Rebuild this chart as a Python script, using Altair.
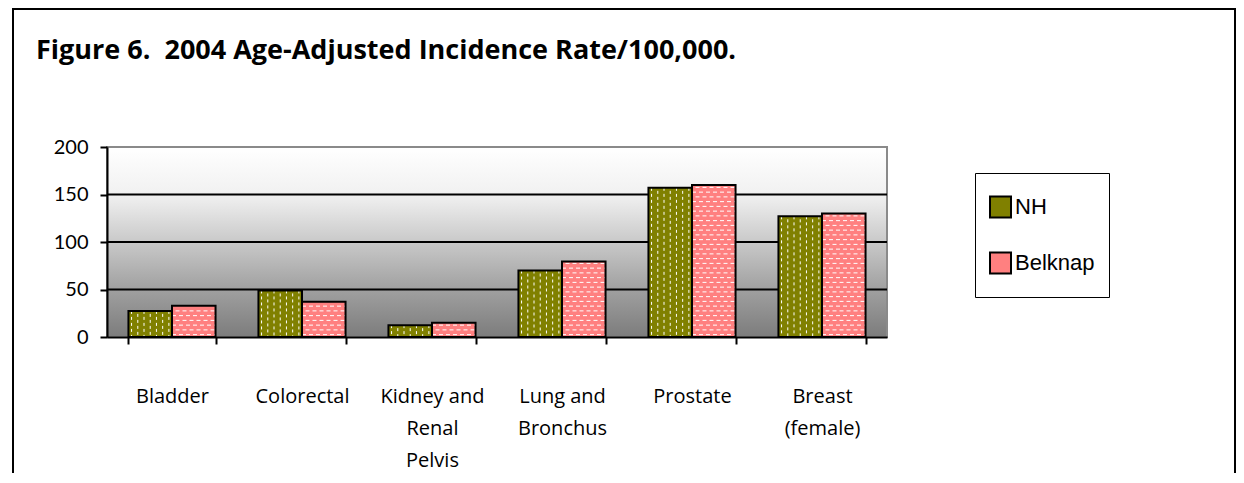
import altair as alt
import pandas as pd

# ---- data ----
categories = ["Bladder", "Colorectal", "Kidney and Renal Pelvis",
              "Lung and Bronchus", "Prostate", "Breast (female)"]
nh_values = [27.5, 49, 12.5, 70, 157, 127]
belknap_values = [33, 37, 15, 79.5, 160, 130]
series_names = ["NH", "Belknap"]
series_colors = ["#808000", "#FF8080"]
y_ticks = [0, 50, 100, 150, 200]
grid_values = [50, 100, 150]
label_lines = {
    "Kidney and Renal Pelvis": ["Kidney and", "Renal", "Pelvis"],
    "Lung and Bronchus": ["Lung and", "Bronchus"],
    "Breast (female)": ["Breast", "(female)"],
}
title_text = "Figure 6.\u00a0 2004 Age-Adjusted Incidence Rate/100,000."

df = pd.DataFrame({
    "category": categories * 2,
    "series": [series_names[0]] * len(categories) + [series_names[1]] * len(categories),
    "value": nh_values + belknap_values,
})
grid_df = pd.DataFrame({"g": grid_values})

W, H = 780, 190

label_expr = ""
for k, lines in label_lines.items():
    arr = "[" + ",".join("'" + s + "'" for s in lines) + "]"
    label_expr += f"datum.label == '{k}' ? {arr} : "
label_expr += "datum.label"

x_scale = alt.Scale(paddingInner=0.33, paddingOuter=0.165)
x_axis = alt.Axis(
    title=None, labelAngle=0, tickBand="extent", labelExpr=label_expr,
    domainColor="black", domainWidth=2, tickColor="black", tickWidth=2, tickSize=7,
    labelFont="Open Sans", labelFontSize=20, labelColor="black", labelLineHeight=32,
    labelPadding=52, labelBaseline="middle", zindex=1,
)
y_scale = alt.Scale(domain=[0, 200], nice=False)
y_axis = alt.Axis(
    title=None, values=y_ticks, grid=False,
    domainColor="black", domainWidth=2, tickColor="black", tickWidth=2, tickSize=7,
    labelFont="Lato", labelFontSize=20, labelColor="black", labelPadding=12, zindex=1,
)


def X(**kw):
    return alt.X("category:N", sort=categories, scale=x_scale, axis=x_axis, **kw)


def Y(field):
    return alt.Y(field, scale=y_scale, axis=y_axis)


gradient = alt.LinearGradient(
    gradient="linear", x1=0, y1=0, x2=0, y2=1,
    stops=[
        alt.GradientStop(color="#ffffff", offset=0),
        alt.GradientStop(color="#f1f1f1", offset=0.25),
        alt.GradientStop(color="#c9c9c9", offset=0.5),
        alt.GradientStop(color="#a0a0a0", offset=0.75),
        alt.GradientStop(color="#7c7c7c", offset=1),
    ],
)

one = alt.Data(values=[{"k": 1}])

background = alt.Chart(one).mark_rect(fill=gradient, stroke="#8a8a8a", strokeWidth=2).encode(
    x=alt.value(0), x2=alt.value("width"), y=alt.value(0), y2=alt.value("height")
)

outer_border = alt.Chart(one).mark_rect(fill=None, stroke="black", strokeWidth=2).encode(
    x=alt.value(-94), x2=alt.value(1128), y=alt.value(-138), y2=alt.value(400)
)

title = alt.Chart(one).mark_text(
    text=title_text, font="Open Sans", fontWeight="bold", fontSize=27, color="black",
    align="left", baseline="alphabetic",
).encode(x=alt.value(-71), y=alt.value(-88))

grid = alt.Chart(grid_df).mark_rule(color="black", strokeWidth=2).encode(y=Y("g:Q"))

base = alt.Chart(df)

bars = base.mark_bar(strokeWidth=0).encode(
    x=X(),
    xOffset=alt.XOffset("series:N", sort=series_names, scale=alt.Scale(domain=series_names)),
    y=Y("value:Q"),
    color=alt.Color(
        "series:N", sort=series_names,
        scale=alt.Scale(domain=series_names, range=series_colors),
        legend=alt.Legend(
            orient="none", legendX=868, legendY=26, title=None,
            symbolType="square", symbolSize=441, symbolStrokeColor="black",
            symbolStrokeWidth=2, symbolOpacity=1,
            labelFont="Liberation Sans", labelFontSize=22, labelColor="black",
            labelOffset=3, rowPadding=16, clipHeight=40, padding=14,
            strokeColor="black", fillColor="white",
        ),
    ),
)

# vertical dashed pattern on NH bars
nh_pattern = []
ncol = 7
for i in range(ncol):
    nh_pattern.append(
        base.transform_filter(alt.datum.series == series_names[0])
        .mark_rule(color="white", strokeWidth=1, strokeDash=[3, 3],
                   strokeDashOffset=0 if i % 2 == 0 else 3)
        .encode(x=X(bandPosition=(i + 0.5) / (2 * ncol)), y=Y("value:Q"), y2=alt.datum(0))
    )

# horizontal dashed pattern on Belknap bars
bk_rows = (
    base.transform_filter(alt.datum.series == series_names[1])
    .transform_calculate(rows="sequence(2.5, datum.value - 1.5, 5)")
    .transform_flatten(["rows"])
    .transform_calculate(par="floor((datum.rows - 2.5) / 5 + 0.01) % 2")
)
bk_pattern = []
for p in (0, 1):
    bk_pattern.append(
        bk_rows.transform_filter(alt.datum.par == p)
        .mark_rule(color="white", strokeWidth=1, strokeDash=[4, 3],
                   strokeDashOffset=0 if p == 0 else 3.5)
        .encode(x=X(bandPosition=0.5), x2=alt.X2("category:N", bandPosition=1.0), y=Y("rows:Q"))
    )

outlines = base.mark_bar(fill=None, stroke="black", strokeWidth=2).encode(
    x=X(),
    xOffset=alt.XOffset("series:N", sort=series_names, scale=alt.Scale(domain=series_names)),
    y=Y("value:Q"),
)

chart = alt.layer(
    background, grid, bars, *nh_pattern, *bk_pattern, outlines, outer_border, title
).properties(
    width=W, height=H,
    autosize=alt.AutoSizeParams(type="none"),
    padding={"left": 99, "top": 139, "right": 349, "bottom": 136},
).configure_view(strokeWidth=0).configure(background="white")

chart.save("out.html", embed_options={"renderer": "svg", "actions": False})
